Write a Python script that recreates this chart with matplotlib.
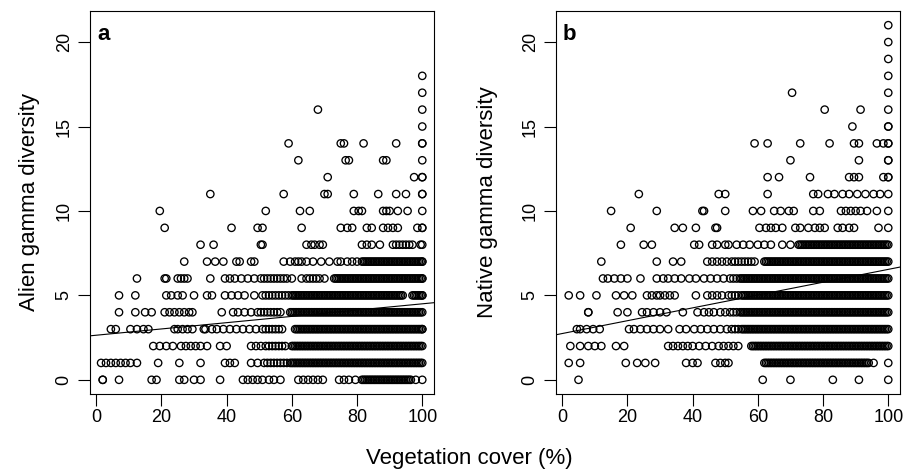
import matplotlib
matplotlib.use('Agg')
import matplotlib.pyplot as plt

plt.rcParams['font.family'] = ['Liberation Sans', 'DejaVu Sans']

# ---------------- data: panel a (alien gamma diversity), x values per y level
a_y18 = [100]
a_y17 = [100]
a_y16 = [68, 100]
a_y15 = [100]
a_y14 = [59, 75, 76, 82, 92, 100, 100]
a_y13 = [62, 76.5, 77.5, 88, 89, 100]
a_y12 = [71, 97.5, 100, 100]
a_y11 = [35, 57.5, 70, 71, 79, 86.5, 92, 95, 100, 100]
a_y10 = [19.5, 52, 62.5, 65.5, 79, 80.5, 81.5, 88, 89, 90, 92.5, 95.5, 100]
a_y9 = [21, 41.5, 49.5, 51, 63, 75, 77, 78.5, 83, 84.5, 88, 89.5, 91, 92.5, 98.5, 100, 100]
a_y8 = [32, 36, 50.5, 51, 64.5, 66, 67, 68.5, 69.5, 81.5, 83, 84.5, 87, 91, 92, 93, 94, 95, 96, 97, 99.5, 100]
a_y7 = [27, 34, 36.5, 39, 43, 44, 47.5, 48.5, 57.5, 59.5, 61, 62, 63, 64.5, 66.5, 69, 71.5, 74, 75, 77,
        78.5, 80, 81.5, 82.5, 83.5, 84.5, 85.5, 86.5, 87.5, 88.5, 89.5, 90.5, 91.5, 92.5, 93.5, 94.5, 95.5,
        96.5, 97.5, 98.5, 99.5, 100, 100,
        82, 83, 84, 85, 86, 87, 88, 89, 90, 91, 92, 93, 94, 95, 96, 97, 98, 99]
a_y6 = [12.5, 21, 21.5, 25, 26, 27, 28, 35, 39.5, 41, 42.5, 44.5, 46.5, 48.5, 50.5, 51.5, 52.5, 53.5, 54.5,
        55.5, 56.5, 57.5, 58.5, 60, 63, 64.5, 65.5, 66.5, 67.5, 68.5, 70, 73, 74, 75, 76, 77, 78, 79, 80, 81,
        82, 83, 84, 85, 86, 87, 88, 89, 90, 91, 92, 93, 94, 95, 96, 97, 98, 99, 100, 100,
        73.5, 74.5, 75.5, 76.5, 77.5, 78.5, 79.5, 80.5, 81.5, 82.5, 83.5, 84.5, 85.5, 86.5, 87.5, 88.5, 89.5,
        90.5, 91.5, 92.5, 93.5, 94.5, 95.5, 96.5, 97.5, 98.5, 99.5]
a_y5 = [7, 12, 21.5, 23, 25, 26.5, 30, 34, 35.5, 39.5, 41.5, 43.5, 45.5, 48.5, 51, 52, 53, 54, 55, 56, 57, 58,
        59, 60, 61, 62, 63, 64, 65, 66, 67, 68, 69, 70, 71, 72, 73, 74, 75, 76, 77, 78, 79, 80, 81, 82, 83, 84,
        85, 86, 87, 88, 89, 90, 91, 92, 93, 94, 97, 98, 99, 100, 100,
        60.5, 61.5, 62.5, 63.5, 64.5, 65.5, 66.5, 67.5, 68.5, 69.5, 70.5, 71.5, 72.5, 73.5, 74.5, 75.5, 76.5,
        77.5, 78.5, 79.5, 80.5, 81.5, 82.5, 83.5, 84.5, 85.5, 86.5, 87.5, 88.5, 89.5, 90.5, 91.5, 92.5, 93.5,
        97.5, 98.5, 99.5]
a_y4 = [7, 12, 15, 17, 21, 22.5, 24, 25.5, 27, 28.5, 29.5, 38.5, 42, 43.5, 45.5, 47.5, 49.5, 50.5, 51.5, 52.5,
        53.5, 54.5, 55.5, 56.5, 59.5, 60.5, 61.5, 62.5, 63.5, 64.5, 65.5, 66.5, 67.5, 68.5, 69.5, 70.5, 71.5,
        72.5, 73.5, 74.5, 75.5, 76.5, 77.5, 78.5, 79.5, 80.5, 81.5, 82.5, 83.5, 84.5, 85.5, 86.5, 87.5, 88.5,
        89.5, 90.5, 91.5, 92.5, 93.5, 94.5, 95.5, 96.5, 97.5, 98.5, 99.5, 100,
        60, 61, 62, 63, 64, 65, 66, 67, 68, 69, 70, 71, 72, 73, 74, 75, 76, 77, 78, 79, 80, 81, 82, 83, 84,
        85, 86, 87, 88, 89, 90, 91, 92, 93, 94, 95, 96, 97, 98, 99]
a_y3 = [4.5, 6, 10.5, 12.5, 14.5, 16, 24, 25, 26.5, 28, 29.5, 33, 33.5, 35.5, 37, 39, 41, 43, 45, 47, 49, 51,
        52, 53, 54, 55, 56, 57, 61, 62, 63, 64, 65, 66, 67, 68, 69, 70, 71, 72, 73, 74, 75, 76, 77, 78, 79, 80,
        81, 82, 83, 84, 85, 86, 87, 88, 89, 90, 91, 92, 93, 94, 95, 96, 97, 98, 99, 100, 100,
        61.5, 62.5, 63.5, 64.5, 65.5, 66.5, 67.5, 68.5, 69.5, 70.5, 71.5, 72.5, 73.5, 74.5, 75.5, 76.5, 77.5,
        78.5, 79.5, 80.5, 81.5, 82.5, 83.5, 84.5, 85.5, 86.5, 87.5, 88.5, 89.5, 90.5, 91.5, 92.5, 93.5, 94.5,
        95.5, 96.5, 97.5, 98.5, 99.5]
a_y2 = [17.5, 19.5, 21.5, 23.5, 26, 27.5, 29, 30.5, 32, 34, 38, 40, 47.5, 49, 50.5, 52, 53, 54, 55, 56, 57,
        58, 60, 61, 62, 63, 64, 65, 66, 67, 68, 69, 70, 71, 72, 73, 74, 75, 76, 77, 78, 79, 80, 81, 82, 83, 84,
        85, 86, 87, 88, 89, 90, 91, 92, 93, 94, 95, 96, 97, 98, 99, 100,
        60.5, 61.5, 62.5, 63.5, 64.5, 65.5, 66.5, 67.5, 68.5, 69.5, 70.5, 71.5, 72.5, 73.5, 74.5, 75.5, 76.5,
        77.5, 78.5, 79.5, 80.5, 81.5, 82.5, 83.5, 84.5, 85.5, 86.5, 87.5, 88.5, 89.5, 90.5, 91.5, 92.5, 93.5,
        94.5, 95.5, 96.5, 97.5, 98.5, 99.5]
a_y1 = [1.5, 3, 4.5, 6, 7.5, 9, 10.5, 12.5, 19, 25.5, 32, 39.5, 41, 42.5, 47.5, 49.5, 51.5, 52.5, 53.5, 54.5,
        55.5, 56.5, 57.5, 58.5, 59.5, 60.5, 61.5, 62.5, 63.5, 64.5, 65.5, 66.5, 67.5, 68.5, 69.5, 70.5, 71.5,
        72.5, 73.5, 74.5, 75.5, 76.5, 77.5, 78.5, 79.5, 80.5, 81.5, 82.5, 83.5, 84.5, 85.5, 86.5, 87.5, 88.5,
        89.5, 90.5, 91.5, 92.5, 93.5, 94.5, 95.5, 96.5, 97.5, 98.5, 99.5, 100,
        60, 61, 62, 63, 64, 65, 66, 67, 68, 69, 70, 71, 72, 73, 74, 75, 76, 77, 78, 79, 80, 81, 82, 83, 84,
        85, 86, 87, 88, 89, 90, 91, 92, 93, 94, 95, 96, 97, 98, 99]
a_y0 = [2, 2, 7, 17, 18.5, 25.5, 27, 30, 32, 38, 45, 46.5, 48, 49.5, 51, 53, 54.5, 56.5, 62, 63.5, 65, 66.5,
        68, 69.5, 74.5, 76, 77.5, 79.5, 81.5, 82.5, 83.5, 84.5, 85.5, 86.5, 87.5, 88.5, 89.5, 90.5, 91.5, 92.5,
        93.5, 94.5, 95.5, 96.5, 98, 100,
        82, 83, 84, 85, 86, 87, 88, 89, 90, 91, 92, 93, 94, 95, 96]

# ---------------- data: panel b (native gamma diversity)
b_y21 = [100]
b_y20 = [100]
b_y19 = [100]
b_y18 = [100]
b_y17 = [70.5, 100]
b_y16 = [80.5, 91.5, 100]
b_y15 = [89, 100, 100]
b_y14 = [59, 63, 73, 82, 89.5, 91, 96.5, 98.5, 100, 100]
b_y13 = [70, 91, 100, 100]
b_y12 = [63, 66.5, 76, 88, 89.5, 91, 98.5, 100, 100]
b_y11 = [23.5, 48, 50, 63, 77, 78.5, 81.5, 83.5, 86, 88, 90.5, 93, 95.5, 97.5, 100]
b_y10 = [15, 29, 43, 43.5, 50, 58.5, 61, 65, 67, 69.5, 71, 77, 79, 85.5, 87, 88.5, 90, 91.5, 93.5, 96.5, 100]
b_y9 = [21, 34.5, 37, 41, 47, 47.5, 60.5, 62.5, 64, 65.5, 67.5, 71.5, 73, 75.5, 77.5, 79, 80.5, 84.5, 86, 88,
        89.5, 97, 100]
b_y8 = [18, 25, 27.5, 40.5, 42, 46, 47.5, 50, 51, 53.5, 55.5, 57.5, 60, 62, 64, 67.5, 70, 72.5, 73.5, 74.5,
        75.5, 76.5, 77.5, 78.5, 79.5, 80.5, 81.5, 82.5, 83.5, 84.5, 85.5, 86.5, 87.5, 88.5, 89.5, 90.5, 91.5,
        92.5, 93.5, 94.5, 95.5, 96.5, 97.5, 98.5, 99.5, 100,
        73, 74, 75, 76, 77, 78, 79, 80, 81, 82, 83, 84, 85, 86, 87, 88, 89, 90, 91, 92, 93, 94, 95, 96, 97,
        98, 99]
b_y7 = [12, 29, 34, 36.5, 44.5, 46, 47.5, 49, 50.5, 52, 53, 54, 55, 56, 57, 58, 59, 62, 63, 64, 65, 66, 67, 68,
        69, 70, 71, 72, 73, 74, 75, 76, 77, 78, 79, 80, 81, 82, 83, 84, 85, 86, 87, 88, 89, 90, 91, 92, 93, 94,
        95, 96, 97, 98, 99, 100,
        62.5, 63.5, 64.5, 65.5, 66.5, 67.5, 68.5, 69.5, 70.5, 71.5, 72.5, 73.5, 74.5, 75.5, 76.5, 77.5, 78.5,
        79.5, 80.5, 81.5, 82.5, 83.5, 84.5, 85.5, 86.5, 87.5, 88.5, 89.5, 90.5, 91.5, 92.5, 93.5, 94.5, 95.5,
        96.5, 97.5, 98.5, 99.5]
b_y6 = [12.5, 14, 16, 18, 20, 24, 29, 31, 32.5, 34.5, 36.5, 39, 41, 43.5, 45.5, 47.5, 49.5, 51.5, 52.5, 53.5,
        54.5, 55.5, 56.5, 57.5, 58.5, 59.5, 60.5, 61.5, 62.5, 63.5, 64.5, 65.5, 66.5, 67.5, 68.5, 69.5, 70.5,
        71.5, 72.5, 73.5, 74.5, 75.5, 76.5, 77.5, 78.5, 79.5, 80.5, 81.5, 82.5, 83.5, 84.5, 85.5, 86.5, 87.5,
        88.5, 89.5, 90.5, 91.5, 92.5, 93.5, 94.5, 95.5, 96.5, 97.5, 98.5, 99.5, 100,
        55, 56, 57, 58, 59, 60, 61, 62, 63, 64, 65, 66, 67, 68, 69, 70, 71, 72, 73, 74, 75, 76, 77, 78, 79,
        80, 81, 82, 83, 84, 85, 86, 87, 88, 89, 90, 91, 92, 93, 94, 95, 96, 97, 98, 99]
b_y5 = [2, 5.5, 10.5, 16.5, 19, 21.5, 26, 27.5, 29, 30, 31.5, 33, 34.5, 41, 44.5, 46, 47.5, 49, 51, 52, 53, 54,
        55, 56, 57, 58, 59, 60, 61, 62, 63, 64, 65, 66, 67, 68, 69, 70, 71, 72, 73, 74, 75, 76, 77, 78, 79, 80,
        81, 82, 83, 84, 85, 86, 87, 88, 89, 90, 91, 92, 93, 94, 95, 96, 97, 98, 99, 100,
        55.5, 56.5, 57.5, 58.5, 59.5, 60.5, 61.5, 62.5, 63.5, 64.5, 65.5, 66.5, 67.5, 68.5, 69.5, 70.5, 71.5,
        72.5, 73.5, 74.5, 75.5, 76.5, 77.5, 78.5, 79.5, 80.5, 81.5, 82.5, 83.5, 84.5, 85.5, 86.5, 87.5, 88.5,
        89.5, 90.5, 91.5, 92.5, 93.5, 94.5, 95.5, 96.5, 97.5, 98.5, 99.5]
b_y4 = [8, 8, 17, 20, 24.5, 26, 28, 30, 32, 37, 41.5, 43.5, 45, 46.5, 48.5, 50, 51.5, 52.5, 53.5, 54.5, 55.5,
        56.5, 57.5, 58.5, 59.5, 60.5, 61.5, 62.5, 63.5, 64.5, 65.5, 66.5, 67.5, 68.5, 69.5, 70.5, 71.5, 72.5,
        73.5, 74.5, 75.5, 76.5, 77.5, 78.5, 79.5, 80.5, 81.5, 82.5, 83.5, 84.5, 85.5, 86.5, 87.5, 88.5, 89.5,
        90.5, 91.5, 92.5, 93.5, 94.5, 95.5, 96.5, 97.5, 98.5, 99.5, 100,
        55, 56, 57, 58, 59, 60, 61, 62, 63, 64, 65, 66, 67, 68, 69, 70, 71, 72, 73, 74, 75, 76, 77, 78, 79,
        80, 81, 82, 83, 84, 85, 86, 87, 88, 89, 90, 91, 92, 93, 94, 95, 96, 97, 98, 99]
b_y3 = [4.5, 5.5, 7.5, 9.5, 11.5, 20.5, 22, 24, 26, 28, 30, 32.5, 36, 38, 40.5, 42.5, 44.5, 46.5, 48.5, 50.5,
        52, 53, 54, 55, 56, 57, 58, 59, 60, 61, 62, 63, 64, 65, 66, 67, 68, 69, 70, 71, 72, 73, 74, 75, 76, 77,
        78, 79, 80, 81, 82, 83, 84, 85, 86, 87, 88, 89, 90, 91, 92, 93, 94, 95, 96, 97, 98, 99, 100,
        55.5, 56.5, 57.5, 58.5, 59.5, 60.5, 61.5, 62.5, 63.5, 64.5, 65.5, 66.5, 67.5, 68.5, 69.5, 70.5, 71.5,
        72.5, 73.5, 74.5, 75.5, 76.5, 77.5, 78.5, 79.5, 80.5, 81.5, 82.5, 83.5, 84.5, 85.5, 86.5, 87.5, 88.5,
        89.5, 90.5, 91.5, 92.5, 93.5, 94.5, 95.5, 96.5, 97.5, 98.5, 99.5]
b_y2 = [2.5, 5.5, 8, 10, 12, 16.5, 19, 32.5, 34, 35.5, 37, 38.5, 40, 42, 44, 46, 48, 49.5, 51, 52.5, 54, 58,
        59, 60, 61, 62, 63, 64, 65, 66, 67, 68, 69, 70, 71, 72, 73, 74, 75, 76, 77, 78, 79, 80, 81, 82, 83, 84,
        85, 86, 87, 88, 89, 90, 91, 92, 93, 94, 95, 96, 97, 98, 99, 100,
        58.5, 59.5, 60.5, 61.5, 62.5, 63.5, 64.5, 65.5, 66.5, 67.5, 68.5, 69.5, 70.5, 71.5, 72.5, 73.5, 74.5,
        75.5, 76.5, 77.5, 78.5, 79.5, 80.5, 81.5, 82.5, 83.5, 84.5, 85.5, 86.5, 87.5, 88.5, 89.5, 90.5, 91.5,
        92.5, 93.5, 94.5, 95.5, 96.5, 97.5, 98.5, 99.5]
b_y1 = [2, 5.5, 19.5, 23, 25.5, 28.5, 38, 40, 41.5, 47, 48.5, 50, 51, 62, 63, 64, 65, 66, 67, 68, 69, 70, 71,
        72, 73, 74, 75, 76, 77, 78, 79, 80, 81, 82, 83, 84, 85, 86, 87, 88, 89, 90, 91, 92, 93, 94, 95.5, 100,
        62.5, 63.5, 64.5, 65.5, 66.5, 67.5, 68.5, 69.5, 70.5, 71.5, 72.5, 73.5, 74.5, 75.5, 76.5, 77.5, 78.5,
        79.5, 80.5, 81.5, 82.5, 83.5, 84.5, 85.5, 86.5, 87.5, 88.5, 89.5, 90.5, 91.5, 92.5, 93.5]
b_y0 = [5, 61.5, 70, 83, 91, 100]

# fitted regression lines (intercept, slope)
alien_fit = (2.64, 0.0186)
native_fit = (2.74, 0.038)

alien_rows = [a_y0, a_y1, a_y2, a_y3, a_y4, a_y5, a_y6, a_y7, a_y8, a_y9, a_y10,
              a_y11, a_y12, a_y13, a_y14, a_y15, a_y16, a_y17, a_y18]
native_rows = [b_y0, b_y1, b_y2, b_y3, b_y4, b_y5, b_y6, b_y7, b_y8, b_y9, b_y10,
               b_y11, b_y12, b_y13, b_y14, b_y15, b_y16, b_y17, b_y18, b_y19, b_y20, b_y21]

x_ticks = [0, 20, 40, 60, 80, 100]
y_ticks = [0, 5, 10, 15, 20]


def flatten(rows):
    xs, ys = [], []
    for level, row in enumerate(rows):
        xs.extend(row)
        ys.extend([level] * len(row))
    return xs, ys


fig = plt.figure(figsize=(9.13, 4.71), dpi=100)
W, H = 913, 471


def make_axes(left_px, right_px):
    return fig.add_axes([left_px / W, 1 - 394 / H, (right_px - left_px) / W, (394 - 11) / H])


ax_a = make_axes(90, 434)
ax_b = make_axes(556, 900)

for ax, rows, fit, letter, ylabel, lab_x in [
        (ax_a, alien_rows, alien_fit, 'a', 'Alien gamma diversity', 30),
        (ax_b, native_rows, native_fit, 'b', 'Native gamma diversity', 488)]:
    xs, ys = flatten(rows)
    ax.scatter(xs, ys, s=28, facecolors='none', edgecolors='black', linewidths=0.95, zorder=3)
    ax.axline((0, fit[0]), slope=fit[1], color='black', linewidth=0.8, zorder=2)
    ax.set_xlim(-1.9, 103.6)
    ax.set_ylim(-0.84, 21.84)
    ax.set_xticks(x_ticks)
    ax.set_yticks(y_ticks)
    ax.set_xticklabels([str(t) for t in x_ticks])
    ax.set_yticklabels([str(t) for t in y_ticks], rotation=90, va='center')
    ax.tick_params(direction='out', length=8.5, width=0.8, labelsize=13, color='black')
    ax.tick_params(axis='x', pad=2)
    ax.tick_params(axis='y', pad=4)
    for sp in ax.spines.values():
        sp.set_linewidth(0.8)
    ax.text(0.02, 0.924, letter, transform=ax.transAxes, fontsize=16, fontweight='bold',
            ha='left', va='baseline')
    fig.text(lab_x / W, 1 - 202 / H, ylabel, rotation=90, ha='center', va='center', fontsize=16)

fig.text(469 / W, 1 - 464 / H, 'Vegetation cover (%)', ha='center', va='baseline', fontsize=16)

fig.savefig('out.png', dpi=100, facecolor='white')
